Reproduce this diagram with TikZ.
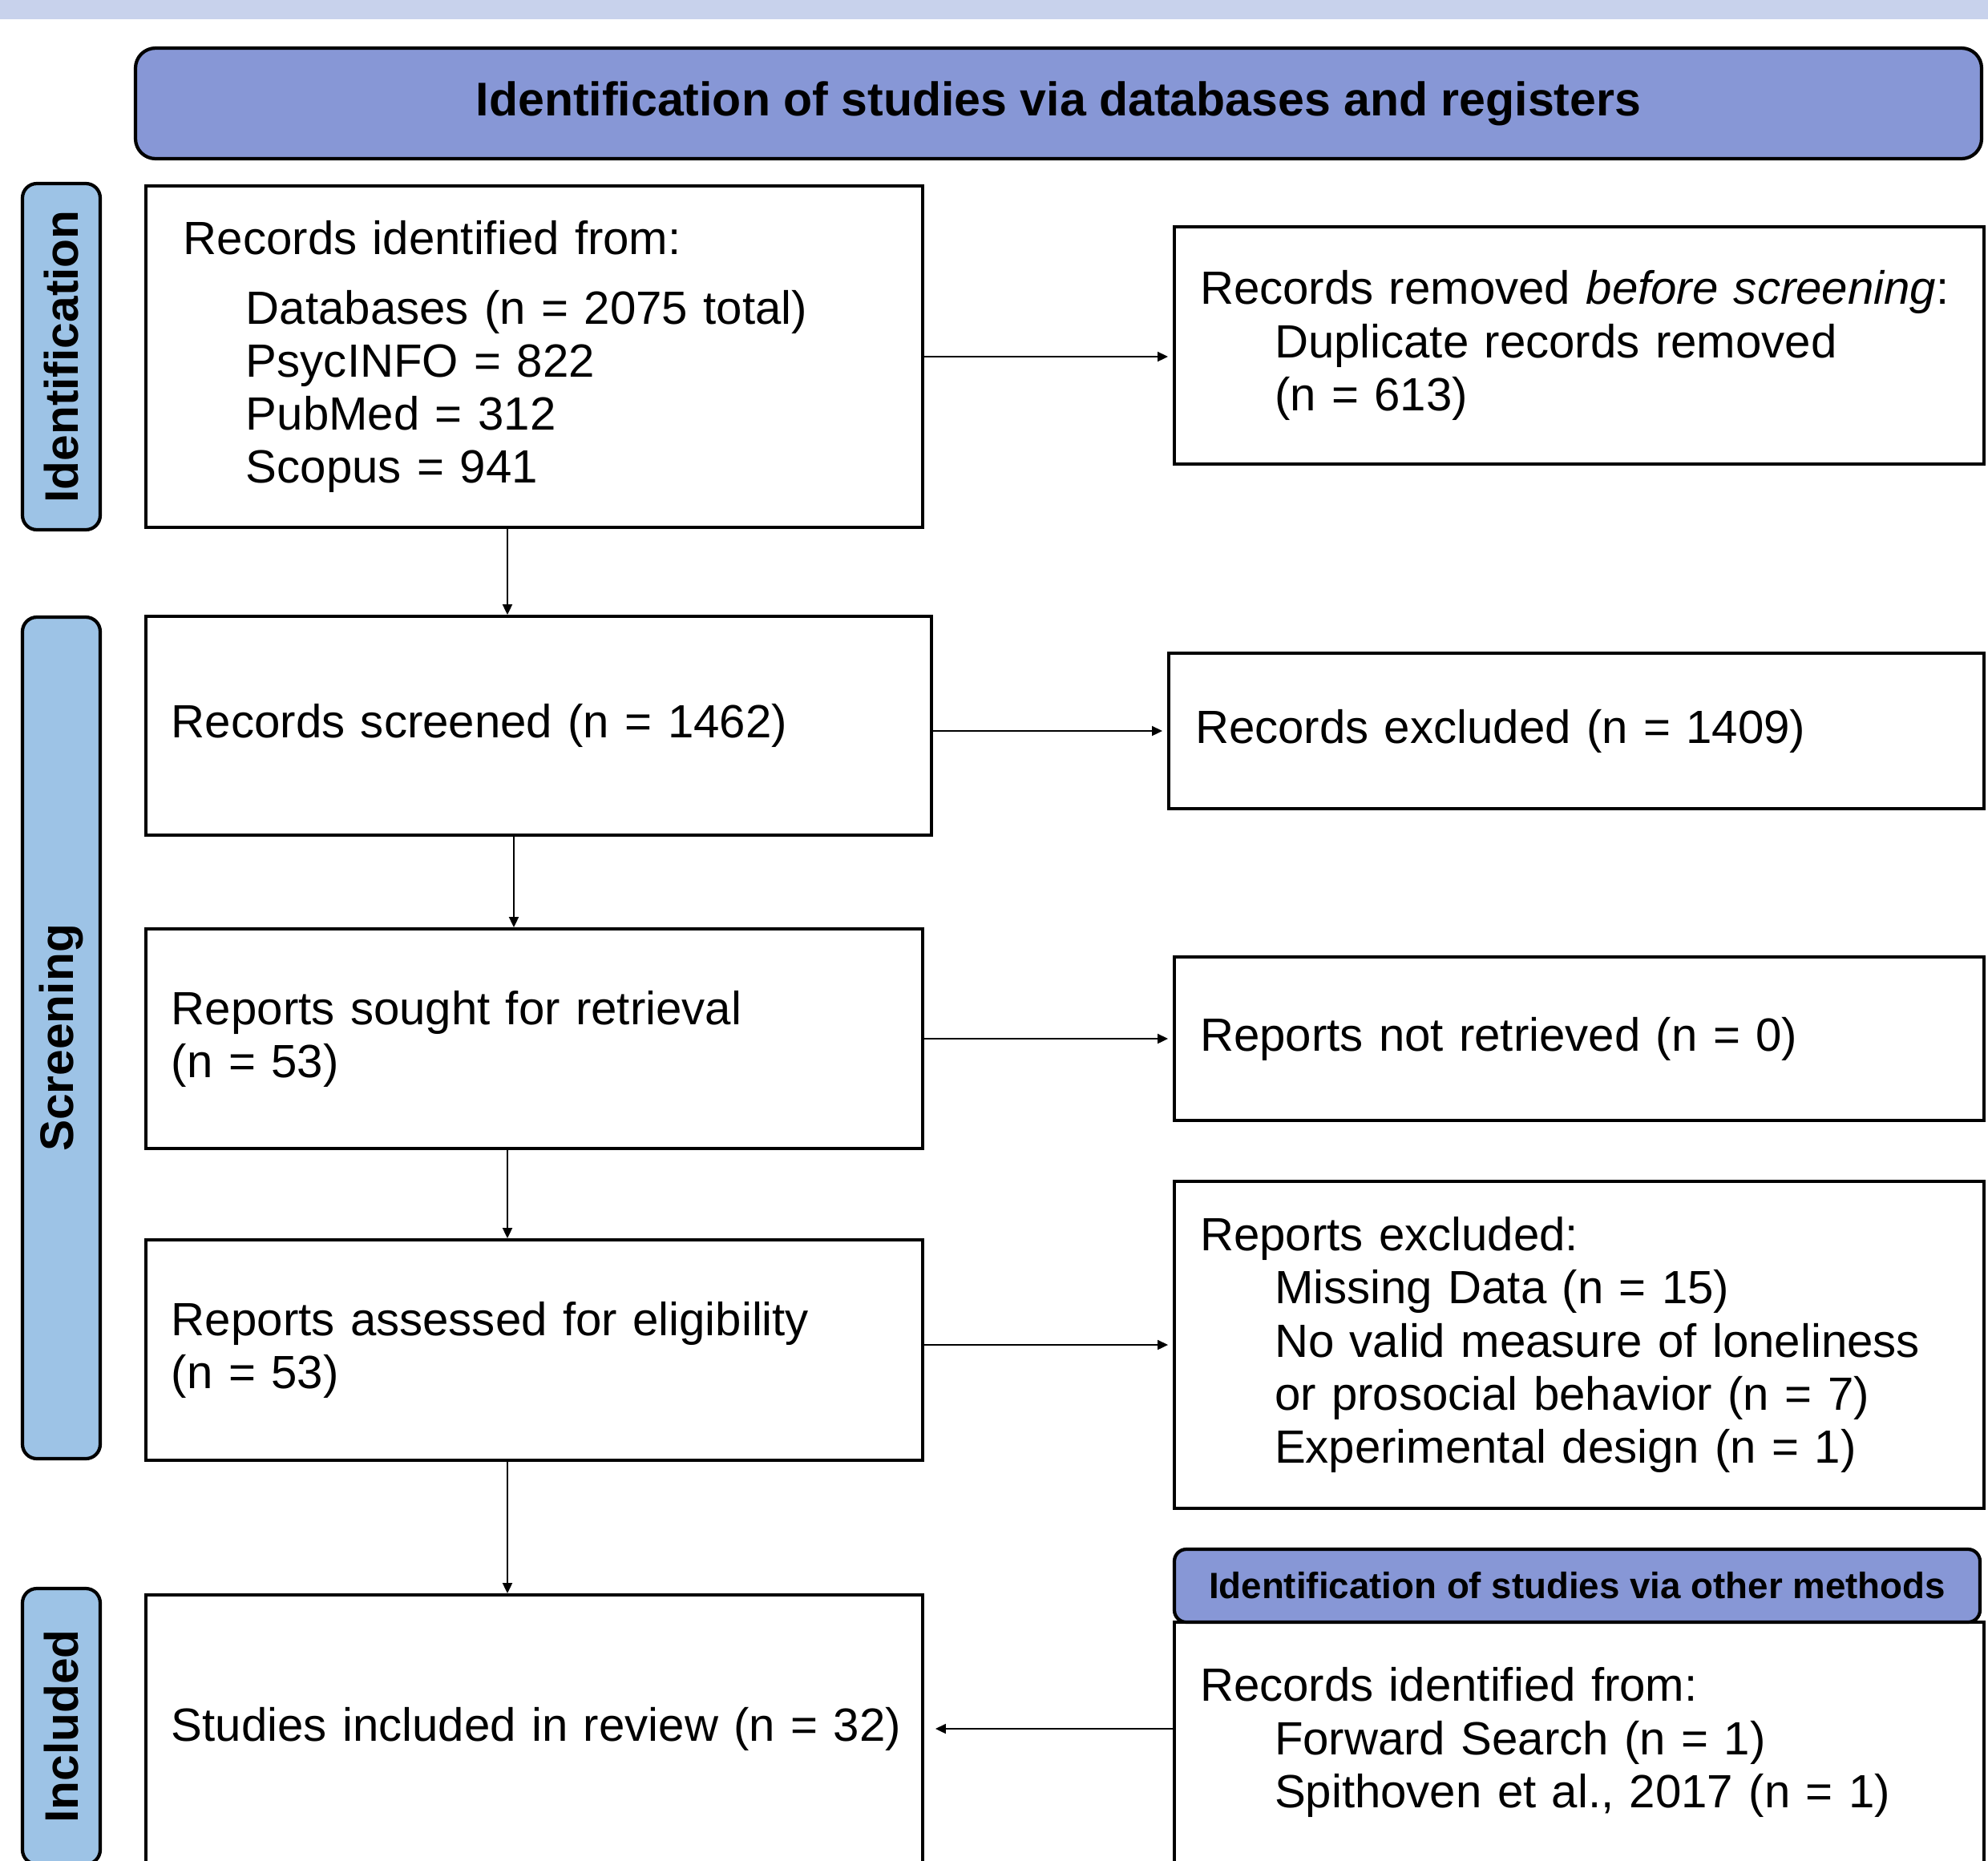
\documentclass[tikz,border=0pt]{standalone}
\usepackage{fontspec}
\setmainfont{Liberation Sans}
\usetikzlibrary{arrows.meta}
\definecolor{bandc}{RGB}{200,210,236}
\definecolor{hdrc}{RGB}{135,151,214}
\definecolor{sidec}{RGB}{157,195,230}
\begin{document}
\begin{tikzpicture}[x=1mm,y=-1mm,
    box/.style={draw,line width=1.1pt,inner xsep=3.2mm,inner ysep=0pt,align=left,
      font=\fontsize{16.55}{18.8}\selectfont},
    hdr/.style={draw,line width=1.2pt,fill=hdrc,rounded corners=2.5mm,inner sep=0pt,
      font=\bfseries\fontsize{16.8}{18.8}\selectfont},
    side/.style={draw,line width=1.2pt,fill=sidec,rounded corners=1.8mm,rotate=90,
      inner sep=0pt,minimum height=9.7mm,font=\bfseries\fontsize{16.7}{18.8}\selectfont},
    arr/.style={line width=0.55pt,-{Triangle[length=1.3mm,width=1.2mm]}}]
  \useasboundingbox (0,0) rectangle (248,232.1);
  \fill[bandc] (0,0) rectangle (248,2.4);
  % headers and phase labels
  \node[hdr,minimum width=230.3mm,minimum height=13.8mm] (top) at (132.05,12.9)
    {Identification of studies via databases and registers};
  \node[side,minimum width=43.2mm] (idl) at (7.65,44.5) {Identification};
  \node[side,minimum width=105mm] (scl) at (7.65,129.5) {Screening};
  \node[side,minimum width=34.4mm] (inl) at (7.65,215.4) {Included};
  % main column
  \node[box,inner xsep=4.7mm,text width=87.5mm,minimum height=42.6mm] (b1) at (66.65,44.5)
    {Records identified from:\\[2.1mm]
     \hspace*{7.8mm}Databases (n = 2075 total)\\
     \hspace*{7.8mm}PsycINFO = 822\\
     \hspace*{7.8mm}PubMed = 312\\
     \hspace*{7.8mm}Scopus = 941};
  \node[box,text width=91.6mm,minimum height=27.3mm] (b2) at (67.2,90.55)
    {Records screened (n = 1462)};
  \node[box,text width=90.5mm,minimum height=27.4mm] (b3) at (66.65,129.6)
    {Reports sought for retrieval\\(n = 53)};
  \node[box,text width=90.5mm,minimum height=27.5mm] (b4) at (66.65,168.45)
    {Reports assessed for eligibility\\(n = 53)};
  \node[box,text width=90.5mm,minimum height=33.4mm] (b5) at (66.65,215.7)
    {\mbox{Studies included in review (n = 32)}};
  % side column
  \node[box,text width=94.6mm,minimum height=29.6mm] (r1) at (197,43.1)
    {Records removed \textit{before screening}:\\
     \hspace*{9.3mm}Duplicate records removed\\
     \hspace*{9.3mm}(n = 613)};
  \node[box,inner xsep=3.3mm,text width=95.1mm,minimum height=19.4mm] (r2) at (196.65,91.2)
    {Records excluded (n = 1409)};
  \node[box,text width=94.6mm,minimum height=20.4mm] (r3) at (197,129.6)
    {Reports not retrieved (n = 0)};
  \node[box,text width=94.6mm,minimum height=40.8mm] (r4) at (197,167.8)
    {Reports excluded:\\
     \hspace*{9.3mm}Missing Data (n = 15)\\
     \hspace*{9.3mm}No valid measure of loneliness\\
     \hspace*{9.3mm}or prosocial behavior (n = 7)\\
     \hspace*{9.3mm}Experimental design (n = 1)};
  \node[box,text width=94.6mm,minimum height=30mm] (r5) at (197,217.4)
    {Records identified from:\\
     \hspace*{9.3mm}Forward Search (n = 1)\\
     \hspace*{9.3mm}Spithoven et al., 2017 (n = 1)};
  \node[hdr,rounded corners=1.5mm,minimum width=100.5mm,minimum height=9.1mm,
    font=\bfseries\fontsize{13}{15}\selectfont] (r5h) at (196.75,197.85)
    {Identification of studies via other methods};
  % connectors
  \draw[arr,shorten >=0.6mm] (b1.east) -- (b1.east -| r1.west);
  \draw[arr,shorten >=0.6mm] (r2.west -| b2.east) -- (r2.west);
  \draw[arr,shorten >=0.6mm] (b3.east) -- (b3.east -| r3.west);
  \draw[arr,shorten >=0.6mm] (r4.west -| b4.east) -- (r4.west);
  \draw[arr,shorten >=1.4mm] (b5.east -| r5.west) -- (b5.east);
  \draw[arr] ([xshift=-3.35mm]b1.south) -- ([xshift=-3.35mm]b1.south |- b2.north);
  \draw[arr] ([xshift=-3.1mm]b2.south) -- ([xshift=-3.1mm]b2.south |- b3.north);
  \draw[arr] ([xshift=-3.35mm]b3.south) -- ([xshift=-3.35mm]b3.south |- b4.north);
  \draw[arr] ([xshift=-3.35mm]b4.south) -- ([xshift=-3.35mm]b4.south |- b5.north);
\end{tikzpicture}
\end{document}
